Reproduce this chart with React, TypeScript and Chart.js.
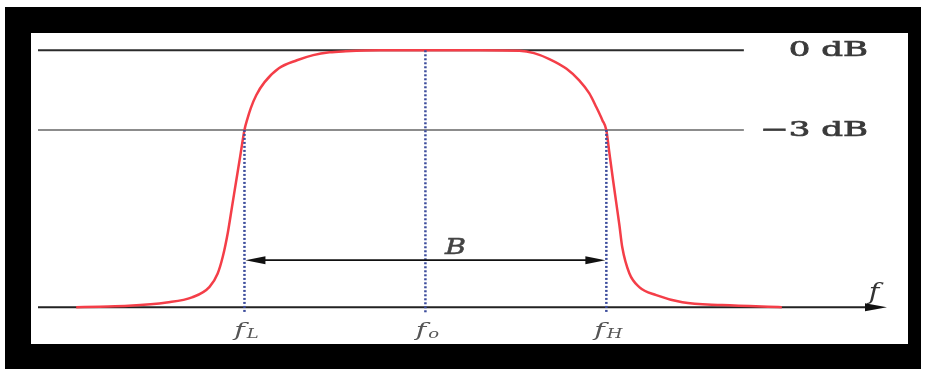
import React, { useEffect, useRef } from 'react';
import { Chart, registerables } from 'chart.js';

Chart.register(...registerables);

// Normalised frequency: fo = 0, fL = -1, fH = +1
const CURVE_X = [-1.93, -1.80, -1.64, -1.43, -1.29, -1.193, -1.148, -1.12, -1.092,
  -1.069, -1.046, -1.023, -1.0, -0.985, -0.965, -0.935, -0.89, -0.81, -0.71,
  -0.62, -0.53, -0.44, -0.25, 0, 0.30, 0.52, 0.60, 0.685, 0.78,
  0.85, 0.905, 0.945, 0.978, 1.0, 1.017, 1.036, 1.055, 1.072, 1.088,
  1.127, 1.182, 1.276, 1.42, 1.64, 1.97];
// Relative amplitude: 1 = 0 dB, 0 = axis
const CURVE_Y = [0, 0.002, 0.005, 0.018, 0.038, 0.079, 0.131, 0.196, 0.29,
  0.39, 0.49, 0.59, 0.69, 0.73, 0.775, 0.825, 0.875, 0.930, 0.961,
  0.981, 0.992, 0.996, 1, 1, 1, 0.998, 0.989, 0.966, 0.928,
  0.883, 0.833, 0.778, 0.728, 0.689, 0.599, 0.50, 0.405, 0.32, 0.233,
  0.132, 0.078, 0.047, 0.019, 0.008, 0];

const TICK_VALUES = [-1, 0, 1];
const TICK_SUBS = ['L', 'o', 'H'];
const LEVEL_VALUES = [1, 0.69];
const LEVEL_LABELS = ['0 dB', '\u22123 dB'];
const BAND_LABEL = 'B';
const AXIS_LABEL = 'f';

const X_MIN = -2.13;
const X_MAX = 2.54;
const Y_MIN = -0.05;
const Y_MAX = 1.04;
const REF_LINE_END = 1.76;

function stretchedText(ctx: CanvasRenderingContext2D, text: string, x: number, y: number, font: string, sx: number, align: 'left' | 'right' | 'center', heavy = 0) {
  ctx.save();
  ctx.font = font;
  const w = ctx.measureText(text).width * sx;
  let left = x;
  if (align === 'right') left = x - w;
  if (align === 'center') left = x - w / 2;
  ctx.translate(left, y);
  ctx.scale(sx, 1);
  ctx.textAlign = 'left';
  ctx.fillText(text, 0, 0);
  if (heavy > 0) {
    ctx.strokeStyle = ctx.fillStyle as string;
    ctx.lineWidth = heavy;
    ctx.strokeText(text, 0, 0);
  }
  ctx.restore();
  return w;
}

const decoPlugin = {
  id: 'deco',
  beforeDraw(chart: any) {
    const ctx = chart.ctx as CanvasRenderingContext2D;
    ctx.save();
    ctx.fillStyle = '#ffffff';
    ctx.fillRect(0, 0, chart.width, chart.height);
    ctx.fillStyle = '#000000';
    ctx.fillRect(5, 7, 916, 362);
    ctx.fillStyle = '#ffffff';
    ctx.fillRect(31, 33, 877, 311);
    ctx.restore();
  },
  beforeDatasetsDraw(chart: any) {
    const ctx = chart.ctx as CanvasRenderingContext2D;
    const xs = chart.scales.x;
    const ys = chart.scales.y;
    const xl = chart.chartArea.left - 2;
    const xr = xs.getPixelForValue(REF_LINE_END);
    ctx.save();
    const colors = ['#2b2b2b', '#8c8c8c'];
    LEVEL_VALUES.forEach((v, i) => {
      const py = ys.getPixelForValue(v);
      ctx.strokeStyle = colors[i];
      ctx.lineWidth = 2;
      ctx.beginPath();
      ctx.moveTo(xl, py);
      ctx.lineTo(xr, py);
      ctx.stroke();
      ctx.fillStyle = '#3a3a3a';
      ctx.textBaseline = 'middle';
      stretchedText(ctx, LEVEL_LABELS[i], 868, py + 1, '20px "DejaVu Serif"', 1.7, 'right', 0.7);
    });
    const y0 = ys.getPixelForValue(0);
    const axEnd = chart.chartArea.right + 2;
    ctx.strokeStyle = '#222';
    ctx.lineWidth = 2;
    ctx.beginPath();
    ctx.moveTo(xl, y0);
    ctx.lineTo(axEnd - 12, y0);
    ctx.stroke();
    ctx.fillStyle = '#111';
    ctx.beginPath();
    ctx.moveTo(axEnd, y0);
    ctx.lineTo(axEnd - 22, y0 - 4);
    ctx.lineTo(axEnd - 22, y0 + 4);
    ctx.closePath();
    ctx.fill();
    ctx.fillStyle = '#333';
    ctx.textBaseline = 'alphabetic';
    stretchedText(ctx, AXIS_LABEL, axEnd - 13, y0 - 8, 'italic 22px "DejaVu Serif"', 1.3, 'center');
    ctx.restore();
  },
  afterDatasetsDraw(chart: any) {
    const ctx = chart.ctx as CanvasRenderingContext2D;
    const xs = chart.scales.x;
    const ys = chart.scales.y;
    const y0 = ys.getPixelForValue(0);
    ctx.save();
    ctx.setLineDash([2, 2]);
    ctx.strokeStyle = '#3c4c9c';
    ctx.lineWidth = 2.5;
    TICK_VALUES.forEach((v) => {
      const px = xs.getPixelForValue(v);
      const top = v === 0 ? ys.getPixelForValue(LEVEL_VALUES[0]) : ys.getPixelForValue(LEVEL_VALUES[1]);
      ctx.beginPath();
      ctx.moveTo(px, top);
      ctx.lineTo(px, y0 + 6);
      ctx.stroke();
    });
    ctx.setLineDash([]);
    const by = ys.getPixelForValue(0.183);
    const bl = xs.getPixelForValue(TICK_VALUES[0]) + 1;
    const br = xs.getPixelForValue(TICK_VALUES[2]) - 1;
    ctx.strokeStyle = '#111';
    ctx.fillStyle = '#111';
    ctx.lineWidth = 1.6;
    ctx.beginPath();
    ctx.moveTo(bl + 10, by);
    ctx.lineTo(br - 10, by);
    ctx.stroke();
    ctx.beginPath();
    ctx.moveTo(bl, by);
    ctx.lineTo(bl + 20, by - 4);
    ctx.lineTo(bl + 20, by + 4);
    ctx.closePath();
    ctx.fill();
    ctx.beginPath();
    ctx.moveTo(br, by);
    ctx.lineTo(br - 20, by - 4);
    ctx.lineTo(br - 20, by + 4);
    ctx.closePath();
    ctx.fill();
    ctx.fillStyle = '#444';
    ctx.textBaseline = 'alphabetic';
    stretchedText(ctx, BAND_LABEL, xs.getPixelForValue(0.166), ys.getPixelForValue(0.205), 'italic 22px "DejaVu Serif"', 1.3, 'center', 0.5);
    ctx.fillStyle = '#555';
    TICK_VALUES.forEach((v, i) => {
      const px = xs.getPixelForValue(v);
      ctx.font = 'italic 19px "DejaVu Serif"';
      const fw = ctx.measureText('f').width * 1.5;
      ctx.font = 'italic 12px "DejaVu Serif"';
      const sw = ctx.measureText(TICK_SUBS[i]).width * 1.5;
      const total = fw + 2 + sw;
      const left = px + 2 - total / 2;
      stretchedText(ctx, 'f', left, y0 + 29, 'italic 19px "DejaVu Serif"', 1.5, 'left');
      stretchedText(ctx, TICK_SUBS[i], left + fw + 2, y0 + 31, 'italic 12px "DejaVu Serif"', 1.5, 'left');
    });
    ctx.restore();
  },
};

export default function App() {
  const ref = useRef<HTMLCanvasElement | null>(null);
  useEffect(() => {
    if (!ref.current) return;
    const chart = new Chart(ref.current, {
      type: 'line',
      data: {
        datasets: [
          {
            data: CURVE_X.map((x, i) => ({ x, y: CURVE_Y[i] })),
            borderColor: 'rgb(244, 62, 72)',
            borderWidth: 2.5,
            pointRadius: 0,
            cubicInterpolationMode: 'monotone',
            fill: false,
          },
        ],
      },
      options: {
        animation: false,
        responsive: false,
        maintainAspectRatio: false,
        devicePixelRatio: 1,
        layout: { padding: { left: 40, right: 44, top: 40, bottom: 52 } },
        scales: {
          x: { type: 'linear', min: X_MIN, max: X_MAX, display: false },
          y: { type: 'linear', min: Y_MIN, max: Y_MAX, display: false },
        },
        plugins: { legend: { display: false }, tooltip: { enabled: false } },
      },
      plugins: [decoPlugin],
    } as any);
    return () => chart.destroy();
  }, []);
  return (
    <canvas
      ref={ref}
      width={929}
      height={372}
      style={{ position: 'fixed', left: 0, top: 0, width: 929, height: 372, display: 'block' }}
    />
  );
}
